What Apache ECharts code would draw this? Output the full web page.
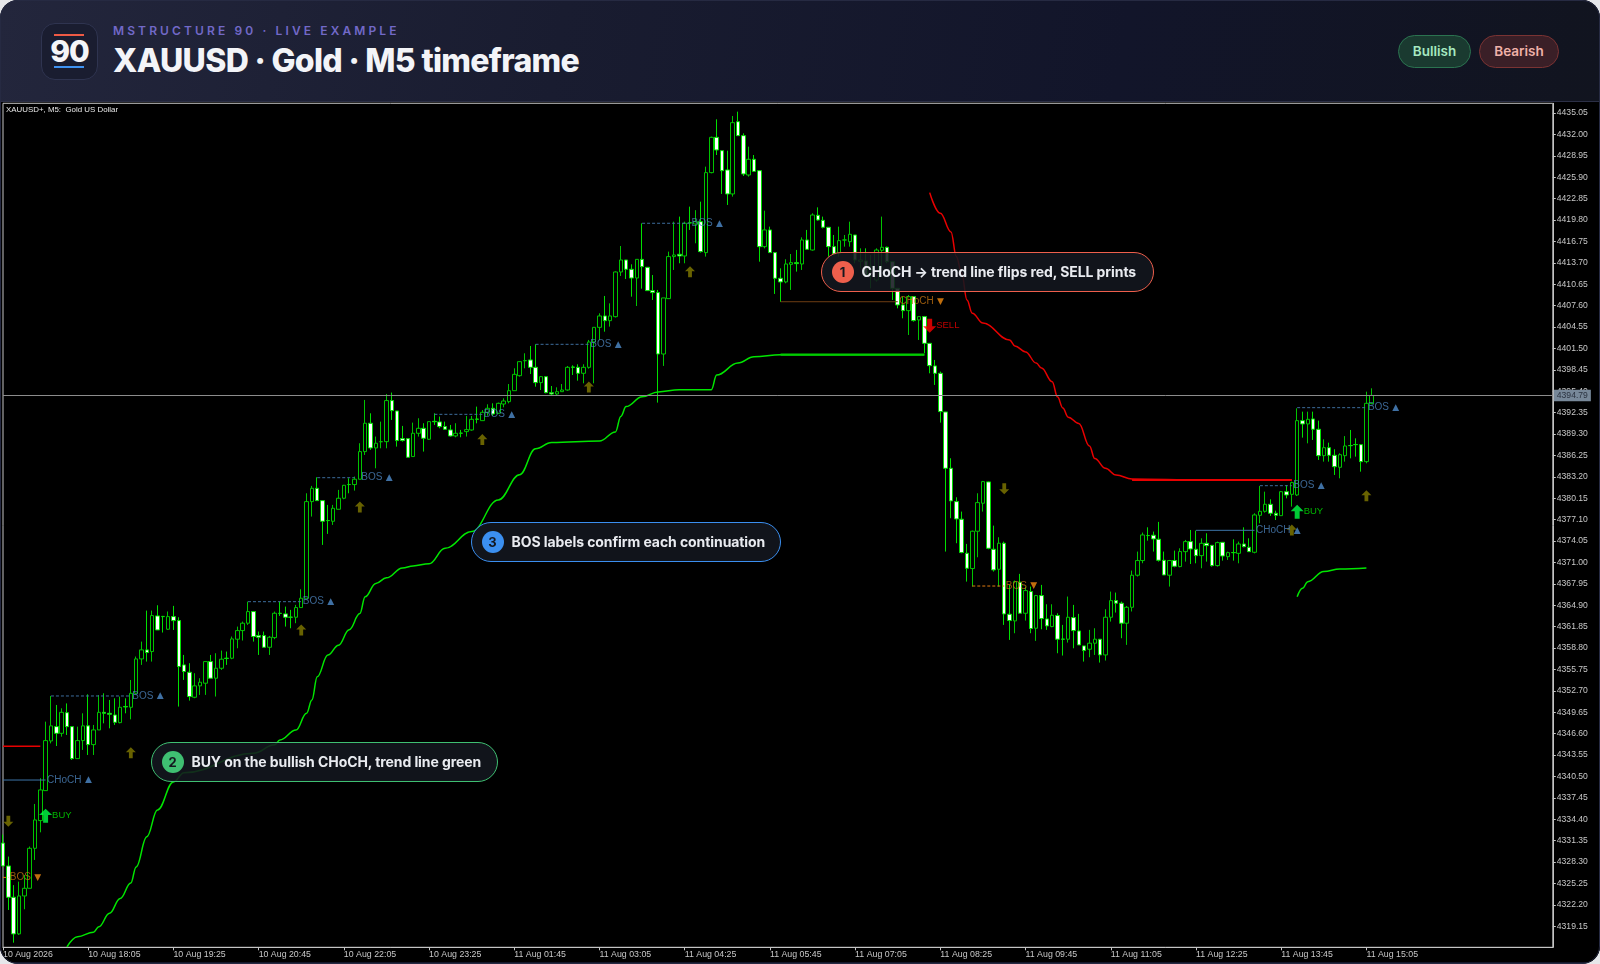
<!DOCTYPE html>
<html>
<head>
<meta charset="utf-8">
<title>XAUUSD M5</title>
<script src="https://cdn.jsdelivr.net/npm/echarts@6/dist/echarts.min.js"></script>
<style>
html,body{margin:0;padding:0;width:1600px;height:964px;overflow:hidden;background:#e6e7ea;font-family:Inter,"Noto Sans",sans-serif}
#card{position:absolute;left:0;top:0;width:1600px;height:964px;border-radius:18px;overflow:hidden;background:#14172a}
#card:after{content:"";position:absolute;left:0;top:0;right:0;bottom:0;border:1px solid #262a42;border-radius:18px;pointer-events:none;z-index:9}
#head{position:absolute;left:0;top:0;width:1600px;height:101px;border-bottom:1px solid #2b2f45;background:linear-gradient(100deg,#23263c 0%,#191c30 35%,#12152a 70%,#11141f 100%)}
#logo{position:absolute;left:41px;top:23px;width:55px;height:55px;border:1px solid #2f3450;border-radius:14px;background:#1a1d30}
#logo b{position:absolute;left:0;width:55px;top:12px;text-align:center;font-size:30px;line-height:30px;font-weight:800;color:#f4f5f8;letter-spacing:-1px}
#logo i{position:absolute;left:12px;width:30px;height:2px}
#brow{position:absolute;left:113px;top:23px;font-size:12px;line-height:16px;font-weight:600;letter-spacing:3.12px;color:#7269c8;white-space:nowrap}
#ttl{position:absolute;left:113px;top:41px;font-size:32px;line-height:40px;font-weight:800;letter-spacing:-.67px;color:#f3f4f8;white-space:nowrap}
.pill{position:absolute;top:35px;height:31px;line-height:31px;border-radius:17px;text-align:center;font-size:13.5px;font-weight:600;border:1px solid}
#chart{position:absolute;left:0;top:102px;width:1600px;height:860px}
.note{position:absolute;height:38px;line-height:38px;border-radius:20px;background:rgba(19,23,31,.88);border:1px solid;color:#e9ebf0;font-size:14px;font-weight:700;white-space:nowrap;z-index:5;box-sizing:content-box}
.note span{position:absolute;left:9.5px;top:8px;width:22px;height:22px;border-radius:50%;line-height:22px;text-align:center;color:#14171f;font-size:13px;font-weight:700}
.note em{position:absolute;left:39.5px;top:0;font-style:normal;letter-spacing:-.08px}
</style>
</head>
<body>
<div id="card">
  <div id="head">
    <div id="logo"><i style="top:10px;background:#ee5a45"></i><b>90</b><i style="top:42px;background:#3f93f2"></i></div>
    <div id="brow">MSTRUCTURE 90 · LIVE EXAMPLE</div>
    <div id="ttl">XAUUSD · Gold · M5 timeframe</div>
    <div class="pill" style="left:1398px;width:71px;background:#1a3a30;border-color:#2b7350;color:#a6e9c1">Bullish</div>
    <div class="pill" style="left:1479px;width:78px;background:#3a1f27;border-color:#7a3333;color:#f0b1a9">Bearish</div>
  </div>
  <div id="chart"></div>
  <div class="note" style="left:821px;top:252px;width:331px;border-color:#ee5f4c"><span style="background:#ee5f4c">1</span><em>CHoCH → trend line flips red, SELL prints</em></div>
  <div class="note" style="left:151px;top:742px;width:345px;border-color:#3fbf72"><span style="background:#3fbf72">2</span><em>BUY on the bullish CHoCH, trend line green</em></div>
  <div class="note" style="left:471px;top:522px;width:308px;border-color:#3b8ff0"><span style="background:#3b8ff0">3</span><em>BOS labels confirm each continuation</em></div>
</div>
<script>
// bars, 5 min each
var opens = [
4331.0,4327.73,4323.27,4318.05,4323.46,4324.55,4330.25,4334.2,4338.47,4345.55,
4347.59,4346.64,4349.58,4347.59,4343.03,4345.6,4347.7,4345.03,4347.12,4349.63,
4349.49,4349.25,4348.16,4350.45,4350.35,4352.35,4357.24,4358.53,4358.29,4363.37,
4363.3,4361.47,4363.27,4362.7,4356.39,4355.34,4351.78,4353.4,4353.78,4356.86,
4354.49,4355.91,4357.35,4357.34,4360.05,4361.28,4362.33,4363.99,4360.57,4360.57,
4358.9,4360.28,4363.75,4363.66,4363.2,4363.18,4364.56,4365.89,4379.66,4381.56,
4379.8,4376.97,4376.86,4378.57,4380.14,4382.1,4382.09,4382.85,4386.79,4390.83,
4387.31,4388.2,4388.21,4394.06,4392.58,4388.64,4388.64,4386.08,4389.4,4390.11,
4388.55,4391.1,4391.02,4390.35,4389.88,4389.02,4389.42,4389.64,4389.87,4391.43,
4391.2,4392.39,4392.96,4392.25,4393.57,4393.91,4395.47,4397.61,4399.75,4399.85,
4398.8,4396.62,4397.47,4395.19,4395.0,4395.33,4395.57,4398.85,4398.8,4397.95,
4398.8,4402.41,4404.5,4406.12,4405.45,4406.02,4412.39,4414.1,4412.77,4411.53,
4414.19,4413.06,4409.73,4409.45,4400.7,4408.59,4414.58,4414.91,4414.67,4419.4,
4419.23,4419.56,4415.15,4426.55,4431.58,4429.68,4426.93,4423.51,4433.81,4431.82,
4426.21,4428.45,4426.83,4416.0,4418.38,4415.15,4411.49,4410.97,4413.48,4413.72,
4413.53,4416.95,4415.52,4420.47,4419.75,4418.76,4416.0,4415.05,4416.95,4416.71,
4417.66,4413.91,4413.96,4412.68,4411.25,4415.48,4415.91,4413.86,4410.06,4407.69,
4406.88,4408.88,4405.55,4406.03,4402.22,4399.0,4397.95,4392.44,4384.41,4379.66,
4377.15,4372.3,4370.12,4375.44,4379.43,4382.47,4372.87,4370.02,4373.73,4363.61,
4362.66,4368.17,4363.75,4366.84,4361.61,4366.27,4362.94,4361.85,4363.42,4360.07,
4360.05,4363.13,4361.23,4359.1,4358.62,4359.48,4360.05,4357.81,4363.18,4365.55,
4365.18,4362.33,4364.6,4369.17,4371.26,4374.83,4374.87,4374.3,4371.3,4369.17,
4371.26,4370.4,4372.53,4373.96,4372.87,4371.96,4373.72,4373.43,4370.54,4373.86,
4371.82,4372.4,4372.29,4373.62,4373.15,4372.44,4377.71,4378.28,4379.28,4378.0,
4377.66,4381.08,4380.7,4380.61,4391.2,4390.73,4391.44,4389.97,4386.21,4387.35,
4386.26,4384.55,4386.21,4387.65,4387.8,4387.78,4385.36,4393.67];
var closes = [
4327.73,4323.27,4318.05,4323.46,4324.55,4330.25,4334.29,4338.57,4345.6,4347.7,
4346.64,4349.63,4347.59,4343.03,4345.6,4347.7,4345.03,4347.12,4349.63,4349.49,
4349.35,4348.21,4350.35,4350.4,4352.34,4357.24,4358.53,4358.15,4363.42,4361.37,
4363.27,4363.27,4362.7,4356.15,4355.44,4351.88,4353.4,4353.92,4356.86,4354.49,
4355.91,4357.2,4357.3,4360.09,4361.28,4362.33,4363.99,4360.43,4360.33,4358.9,
4360.33,4363.75,4363.72,4363.18,4363.18,4364.56,4365.89,4379.66,4381.56,4379.8,
4376.86,4376.95,4378.71,4380.14,4381.99,4382.09,4382.85,4386.79,4390.83,4387.31,
4387.98,4388.2,4394.06,4392.63,4388.36,4388.36,4385.98,4389.4,4390.11,4388.69,
4391.06,4391.05,4390.35,4389.97,4389.02,4389.4,4389.4,4389.92,4391.39,4391.4,
4392.39,4392.96,4392.15,4393.67,4394.0,4395.47,4397.8,4399.61,4399.75,4398.8,
4396.62,4397.47,4395.19,4395.0,4395.33,4395.57,4398.8,4398.8,4397.95,4398.8,
4402.41,4404.5,4406.12,4405.45,4406.12,4412.39,4414.1,4412.77,4411.53,4414.19,
4413.15,4409.73,4409.45,4400.7,4408.69,4414.58,4414.81,4414.67,4419.33,4419.37,
4419.56,4415.29,4426.55,4431.58,4429.78,4426.83,4423.51,4433.67,4431.82,4426.36,
4428.45,4426.73,4416.0,4418.38,4415.15,4411.49,4410.97,4413.53,4413.72,4413.58,
4416.95,4415.62,4420.51,4419.8,4418.76,4416.0,4414.96,4416.86,4416.95,4417.76,
4414.1,4414.1,4411.96,4413.15,4415.52,4415.91,4413.86,4410.06,4407.69,4406.88,
4408.88,4405.46,4406.03,4402.22,4399.04,4397.95,4392.49,4384.41,4379.76,4377.19,
4372.4,4370.16,4375.44,4379.52,4382.51,4373.01,4369.93,4373.73,4363.65,4362.71,
4368.26,4363.75,4366.98,4361.57,4366.27,4362.99,4361.95,4363.47,4360.05,4360.05,
4363.18,4361.28,4359.24,4358.43,4359.48,4360.05,4357.81,4363.18,4365.55,4365.18,
4362.33,4364.6,4369.17,4371.26,4374.91,4374.82,4374.34,4371.3,4369.21,4371.26,
4370.45,4372.54,4373.96,4372.91,4371.96,4373.72,4373.39,4370.54,4373.82,4371.91,
4372.39,4372.39,4373.62,4373.24,4372.53,4377.76,4378.28,4379.28,4378.0,4377.71,
4381.08,4380.61,4382.37,4391.2,4390.73,4391.39,4389.97,4386.21,4387.35,4386.26,
4384.64,4386.35,4387.59,4387.64,4387.78,4385.36,4393.67,4394.79];
var lows = [
4327.7,4321.46,4316.8,4317.9,4321.56,4324.55,4328.59,4332.53,4338.47,4345.2,
4344.83,4346.16,4346.4,4342.84,4343.03,4344.27,4343.55,4343.55,4347.12,4348.06,
4347.35,4347.83,4348.06,4349.49,4348.63,4352.26,4356.39,4356.86,4356.86,4361.37,
4361.0,4361.37,4361.37,4350.45,4354.25,4351.3,4351.64,4352.11,4352.11,4354.49,
4351.88,4355.68,4356.39,4357.2,4358.76,4359.86,4362.09,4359.71,4357.81,4358.9,
4357.81,4360.05,4363.37,4361.85,4361.61,4362.33,4364.56,4365.89,4377.53,4379.8,
4373.49,4375.06,4376.34,4378.57,4380.0,4380.85,4381.23,4382.85,4386.31,4387.03,
4384.41,4387.26,4387.26,4391.3,4387.5,4388.21,4385.98,4386.08,4388.93,4386.79,
4388.45,4390.59,4390.11,4389.88,4388.93,4388.83,4388.83,4388.93,4389.77,4390.82,
4391.2,4391.91,4391.87,4392.15,4393.1,4393.67,4395.47,4397.47,4398.66,4397.85,
4396.04,4395.57,4395.1,4394.86,4394.86,4395.29,4395.47,4397.71,4396.9,4396.52,
4398.61,4396.52,4402.7,4403.88,4404.6,4405.9,4411.82,4411.39,4408.87,4407.54,
4410.01,4409.73,4408.4,4393.77,4399.0,4408.59,4412.68,4413.63,4413.63,4418.38,
4416.48,4415.15,4414.58,4426.45,4429.06,4423.51,4421.94,4423.13,4431.82,4426.07,
4425.98,4426.73,4413.86,4415.76,4415.15,4409.26,4408.12,4410.78,4409.83,4412.44,
4412.68,4415.52,4415.43,4419.7,4418.61,4414.58,4414.81,4414.58,4416.0,4416.0,
4413.63,4412.91,4411.73,4410.06,4411.01,4412.91,4413.63,4408.4,4407.21,4405.79,
4403.41,4405.31,4402.7,4400.8,4397.95,4396.29,4390.92,4372.54,4377.29,4373.73,
4372.3,4368.26,4367.55,4371.73,4378.24,4372.87,4369.69,4367.55,4362.09,4359.95,
4360.9,4363.75,4362.71,4360.9,4359.81,4361.47,4361.38,4361.76,4358.05,4357.72,
4359.57,4358.76,4359.24,4356.86,4357.48,4357.81,4356.72,4357.01,4362.56,4363.85,
4360.19,4359.24,4364.0,4368.98,4370.88,4374.1,4372.54,4371.11,4369.21,4367.55,
4370.3,4370.3,4371.11,4370.77,4370.87,4370.16,4371.11,4370.4,4370.4,4371.25,
4371.35,4371.25,4370.87,4373.15,4372.53,4372.29,4376.57,4378.09,4377.62,4377.04,
4377.66,4380.13,4378.95,4380.46,4388.78,4387.97,4388.45,4385.6,4385.36,4385.36,
4383.46,4382.98,4385.36,4385.83,4386.07,4383.93,4385.12,4393.53];
var highs = [
4332.2,4329.07,4325.0,4325.5,4326.45,4330.5,4336.57,4340.23,4348.3,4351.96,
4350.68,4350.2,4350.9,4347.59,4347.59,4349.49,4352.2,4347.83,4352.1,4352.34,
4351.39,4351.63,4351.87,4351.63,4354.24,4357.58,4359.71,4364.13,4364.13,4364.89,
4363.37,4364.0,4364.8,4363.18,4357.81,4356.63,4355.2,4354.49,4356.86,4357.81,
4358.05,4358.43,4358.29,4360.43,4361.85,4362.56,4365.41,4363.99,4361.14,4361.14,
4360.52,4363.99,4365.41,4364.7,4364.23,4364.94,4367.17,4380.85,4381.9,4383.13,
4379.8,4379.19,4379.19,4381.33,4382.04,4382.99,4383.23,4387.98,4394.15,4392.25,
4388.93,4391.06,4395.0,4395.2,4392.58,4390.45,4388.64,4390.92,4391.54,4390.83,
4391.06,4392.25,4391.78,4391.06,4390.59,4390.83,4389.88,4391.87,4391.87,4393.2,
4392.72,4393.53,4393.67,4393.77,4394.38,4396.42,4398.66,4399.7,4400.8,4401.84,
4402.08,4397.56,4397.47,4396.14,4395.95,4396.42,4398.99,4399.09,4399.23,4399.23,
4402.7,4404.5,4406.5,4408.97,4407.92,4412.48,4416.09,4414.1,4413.48,4414.19,
4419.32,4413.06,4411.96,4409.83,4408.69,4415.29,4419.56,4420.28,4419.56,4421.7,
4421.2,4422.41,4427.4,4431.68,4434.15,4429.68,4429.68,4434.62,4435.24,4432.15,
4430.25,4429.06,4426.83,4421.13,4418.85,4415.15,4412.91,4414.2,4414.95,4415.53,
4417.33,4418.38,4420.75,4421.6,4420.28,4418.76,4417.66,4418.85,4417.66,4419.56,
4417.66,4415.76,4415.76,4414.81,4415.76,4420.28,4416.0,4413.86,4410.06,4408.88,
4409.11,4408.88,4406.03,4406.12,4402.22,4399.85,4398.19,4392.44,4385.84,4380.28,
4378.24,4373.63,4375.53,4380.85,4382.61,4382.51,4376.24,4374.58,4373.96,4367.79,
4368.41,4369.36,4367.55,4367.55,4366.36,4367.79,4365.03,4365.03,4363.75,4362.09,
4366.13,4364.94,4363.66,4359.1,4361.38,4361.61,4360.05,4364.32,4366.84,4366.7,
4365.41,4364.79,4369.83,4372.54,4375.25,4376.0,4375.39,4376.77,4372.54,4371.35,
4372.68,4373.01,4374.2,4375.62,4375.53,4374.43,4375.15,4373.43,4373.96,4373.86,
4372.53,4374.29,4373.96,4376.0,4374.43,4378.0,4381.89,4381.08,4379.99,4378.37,
4381.18,4382.03,4382.51,4392.96,4392.48,4392.48,4392.48,4391.2,4388.54,4388.06,
4387.12,4386.55,4389.0,4389.87,4388.68,4387.78,4395.33,4395.81];

var slotCount = 292;
var timeLabels = ['10 Aug 2026','10 Aug 18:05','10 Aug 19:25','10 Aug 20:45','10 Aug 22:05','10 Aug 23:25',
  '11 Aug 01:45','11 Aug 03:05','11 Aug 04:25','11 Aug 05:45','11 Aug 07:05','11 Aug 08:25','11 Aug 09:45',
  '11 Aug 11:05','11 Aug 12:25','11 Aug 13:45','11 Aug 15:05'];
var priceTicks = [4435.05,4432.00,4428.95,4425.90,4422.85,4419.80,4416.75,4413.70,4410.65,4407.60,4404.55,4401.50,
  4398.45,4395.40,4392.35,4389.30,4386.25,4383.20,4380.15,4377.10,4374.05,4371.00,4367.95,4364.90,4361.85,4358.80,
  4355.75,4352.70,4349.65,4346.60,4343.55,4340.50,4337.45,4334.40,4331.35,4328.30,4325.25,4322.20,4319.15];
var lastPrice = 4394.79;

// trend line, sampled where it bends
var greenBars = [12,14,17,18,20,22,24,25,27,29,32,34,47,51,52,55,57,58,59,61,63,65,67,68,70,72,75,77,80,83,88,93,97,100,103,112,115,116,117,120,123,127,133,134,138,141,146,173];
var greenVals = [4316.2,4317.65,4318.3,4319.07,4321.0,4323.1,4325.3,4327.6,4331.9,4335.7,4339.7,4341.0,4343.8,4345.0,4345.7,4347.1,4349.5,4351.4,4354.7,4357.8,4359.2,4361.4,4363.7,4366.1,4368.0,4368.8,4370.2,4370.5,4370.8,4373.0,4375.4,4379.9,4383.5,4387.2,4388.1,4388.3,4389.6,4391.8,4393.2,4394.6,4395.3,4395.6,4395.6,4397.7,4399.4,4400.3,4400.6,4400.6];
var green2Bars = [243,244,245,248,251,256];
var green2Vals = [4366.1,4367.3,4368.25,4369.7,4370.05,4370.2];
var redBars = [174,176,178,179,180,181,182,184,189,190,192,194,195,197,198,199,200,202,204,205,207,209,212,225,242];
var redVals = [4423.7,4420.75,4418.1,4414.6,4412.25,4408.4,4406.5,4405.1,4402.7,4401.85,4401.0,4399.4,4398.7,4396.75,4394.6,4393.0,4391.7,4390.8,4387.6,4385.8,4384.4,4383.45,4382.9,4382.75,4382.75];
var red0Bars = [0,7];
var red0Vals = [4344.8,4344.8];

// structure breaks: line from bar to bar at a price, label sits at labelBar
var breakNames = ['BOS','CHoCH','BOS','BOS','BOS','BOS','BOS','BOS','CHoCH','BOS','CHoCH','BOS','BOS'];
var breakDirs  = [-1,1,1,1,1,1,1,1,-1,-1,1,1,1];
var breakFrom  = [0,0,9,46,59,81,100,120,146,182,224,236,243];
var breakTo    = [1,8,24,56,66,90,110,129,168,188,235,242,256];
var breakLabelBar = [1,8,24,56,67,90,110,129,168,188,235,242,256];
var breakPrices = [4326.1,4339.98,4351.96,4365.4,4383.07,4392.1,4402.08,4419.33,4408.15,4367.63,4375.57,4381.93,4393.05];

var upArrowBars = [24,56,67,90,110,129,242,256];
var upArrowVals = [4343.87,4361.36,4378.9,4388.5,4396.0,4412.43,4375.6,4380.5];
var downArrowBars = [1,188];
var downArrowVals = [4334.1,4381.5];
var buyBars = [8,243];
var buyVals = [4334.9,4378.2];
var sellBars = [174];
var sellVals = [4404.73];

var arrowPath = 'path://M5 0L10 5.5L6.9 5.5L6.9 12L3.1 12L3.1 5.5L0 5.5Z';
var axisFont = '"Liberation Sans",sans-serif';

function zip(xs, ys) {
    var out = [];
    for (var i = 0; i < xs.length; i++) out.push([xs[i], ys[i]]);
    return out;
}

var categories = [];
for (var i = 0; i < slotCount; i++) {
    categories.push(i % 16 == 0 && timeLabels[i / 16] ? timeLabels[i / 16] : '');
}
var candleData = [];
for (var i = 0; i < opens.length; i++) {
    candleData.push([opens[i], closes[i], lows[i], highs[i]]);
}
function isTimeTick(index) {
    return index % 16 == 0 && index / 16 < timeLabels.length;
}

var series = [{
    type: 'candlestick',
    data: candleData,
    barWidth: 4,
    z: 2,
    itemStyle: {color: '#000000', color0: '#ffffff', borderColor: '#00c400', borderColor0: '#00e000', borderWidth: 1},
    markLine: {
        silent: true,
        symbol: 'none',
        animation: false,
        lineStyle: {color: '#8c8c8c', width: 1, type: 'solid'},
        data: [{
            yAxis: lastPrice,
            label: {
                show: true, position: 'end', distance: 1, formatter: lastPrice.toFixed(2),
                backgroundColor: '#778899', color: '#2b3340', padding: [1.5, 3, 1, 3],
                fontFamily: axisFont, fontSize: 8.6
            }
        }]
    }
}];

function trend(name, xs, ys, color, width) {
    series.push({
        name: name, type: 'line', data: zip(xs, ys), showSymbol: false, smooth: 0.4, smoothMonotone: 'x', z: 3,
        lineStyle: {color: color, width: width}
    });
}
trend('green', greenBars, greenVals, '#00e600', 1.5);
trend('greenFlat', [146, 173], [4400.6, 4400.6], '#00cc00', 2.2);
trend('green2', green2Bars, green2Vals, '#00e600', 1.5);
trend('red', redBars, redVals, '#e80000', 1.5);
trend('redFlat', [212, 242], [4382.75, 4382.75], '#e80000', 2);
trend('red0', red0Bars, red0Vals, '#e80000', 1.5);

var breakLabels = [];
for (var i = 0; i < breakNames.length; i++) {
    var bull = breakDirs[i] > 0;
    var solid = breakNames[i] == 'CHoCH';
    var lineColor = bull ? (solid ? '#3d75a8' : '#3d6d9c') : (solid ? '#6e3d12' : '#e07a10');
    series.push({
        type: 'line', data: [[breakFrom[i], breakPrices[i]], [breakTo[i], breakPrices[i]]], showSymbol: false, z: 3,
        lineStyle: {color: lineColor, width: 1, type: solid ? 'solid' : [3, 2]}
    });
    breakLabels.push({
        value: [breakLabelBar[i], breakPrices[i]],
        label: {formatter: '{' + (bull ? 'a' : 'b') + '|' + breakNames[i] + '} {' + (bull ? 'c' : 'd') + '|' + (bull ? '▲' : '▼') + '}'}
    });
}
series.push({
    type: 'scatter', data: breakLabels, symbolSize: 0, z: 6,
    label: {
        show: true, position: 'right', distance: 1.5,
        rich: {
            a: {color: '#4a80b8', fontFamily: 'Liberation Sans', fontSize: 10},
            b: {color: '#c07212', fontFamily: 'Liberation Sans', fontSize: 10},
            c: {color: '#4f8ccc', fontFamily: 'DejaVu Sans', fontSize: 9},
            d: {color: '#f08a10', fontFamily: 'DejaVu Sans', fontSize: 9}
        }
    }
});

series.push({type: 'scatter', data: zip(upArrowBars, upArrowVals), symbol: arrowPath, symbolSize: [10, 11], z: 5, itemStyle: {color: '#827a00'}});
series.push({type: 'scatter', data: zip(downArrowBars, downArrowVals), symbol: arrowPath, symbolRotate: 180, symbolSize: [10, 11], z: 5, itemStyle: {color: '#827a00'}});
series.push({
    type: 'scatter', data: zip(buyBars, buyVals), symbol: arrowPath, symbolSize: [13, 14], z: 7, itemStyle: {color: '#00ff44'},
    label: {show: true, position: 'right', distance: 0, formatter: 'BUY', color: '#00e000', fontFamily: 'Liberation Sans', fontSize: 9.5}
});
series.push({
    type: 'scatter', data: zip(sellBars, sellVals), symbol: arrowPath, symbolRotate: 180, symbolSize: [13, 14], z: 7, itemStyle: {color: '#ff0000'},
    label: {show: true, position: 'right', distance: 0, formatter: 'SELL', color: '#f00000', fontFamily: 'Liberation Sans', fontSize: 9.5}
});

var myChart = echarts.init(document.getElementById('chart'), null, {renderer: 'canvas'});
var option = {
    animation: false,
    backgroundColor: '#000000',
    title: {
        text: 'XAUUSD+, M5:  Gold US Dollar', left: 6, top: 3.5, padding: 0,
        textStyle: {color: '#e8e8e8', fontSize: 7.9, fontWeight: 'normal', fontFamily: axisFont}
    },
    grid: {left: 2.4, top: 1.3, width: 1550.4, height: 844, show: true, borderColor: '#c4c4c4', borderWidth: 1, backgroundColor: '#000000'},
    xAxis: {
        type: 'category',
        data: categories,
        boundaryGap: false,
        axisLine: {lineStyle: {color: '#c4c4c4'}},
        axisTick: {length: 3, interval: isTimeTick, lineStyle: {color: '#c4c4c4'}},
        axisLabel: {interval: isTimeTick, align: 'left', margin: 3, color: '#c8c8c8', fontSize: 8.8, fontFamily: axisFont},
        splitLine: {show: false}
    },
    yAxis: {
        type: 'value',
        position: 'right',
        min: 4316.14,
        max: 4436.43,
        axisLine: {show: true, lineStyle: {color: '#c4c4c4'}},
        axisTick: {show: true, length: 3, customValues: priceTicks, lineStyle: {color: '#c4c4c4'}},
        axisLabel: {
            customValues: priceTicks, margin: 4, color: '#c8c8c8', fontSize: 8.6, fontFamily: axisFont, padding: [2, 0, 0, 0],
            formatter: function (v) { return v.toFixed(2); }
        },
        splitLine: {show: false}
    },
    series: series
};
myChart.setOption(option);
</script>
</body>
</html>
